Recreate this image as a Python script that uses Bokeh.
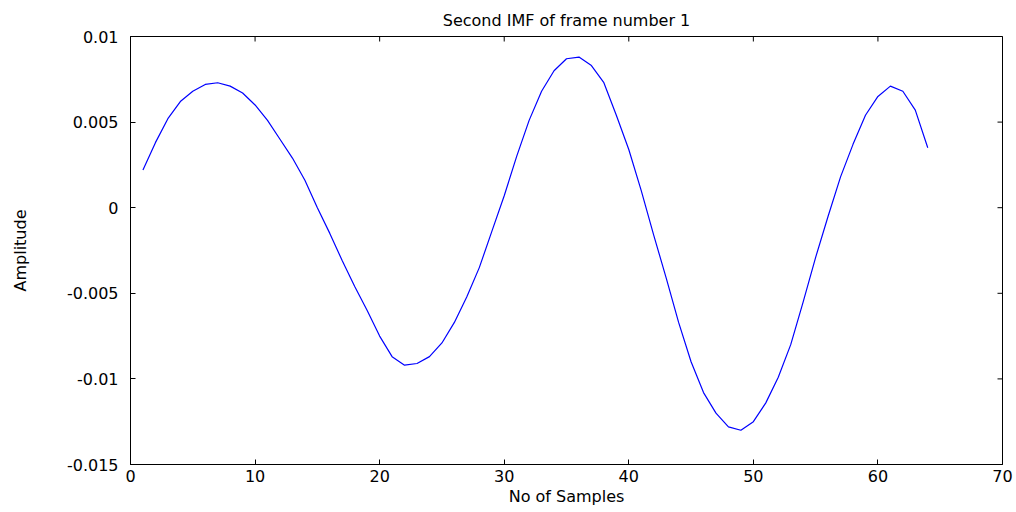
import math
from bokeh.plotting import figure
from bokeh.models import Range1d, FixedTicker
from bokeh.embed import file_html
from bokeh.resources import INLINE

samples = list(range(1, 65))
amplitude = [
    0.0022, 0.0038, 0.0052, 0.0062, 0.0068, 0.0072, 0.0073, 0.0071, 0.0067, 0.0060,
    0.0051, 0.0040, 0.0029, 0.0016, 0.0000, -0.0015, -0.0031, -0.0046, -0.0060, -0.0075,
    -0.0087, -0.0092, -0.0091, -0.0087, -0.0079, -0.0067, -0.0052, -0.0035, -0.0014, 0.0007,
    0.0030, 0.0051, 0.0068, 0.0080, 0.0087, 0.0088, 0.0083, 0.0073, 0.0054, 0.0034,
    0.0010, -0.0016, -0.0041, -0.0067, -0.0090, -0.0108, -0.0120, -0.0128, -0.0130, -0.0125,
    -0.0114, -0.0099, -0.0080, -0.0055, -0.0029, -0.0005, 0.0018, 0.0037, 0.0054, 0.0065,
    0.0071, 0.0068, 0.0057, 0.0035,
]
x_ticks = [0, 10, 20, 30, 40, 50, 60, 70]
y_ticks = [-0.015, -0.01, -0.005, 0, 0.005, 0.01]
y_tick_labels = ["-0.015", "-0.01", "-0.005", "0", "0.005", "0.01"]
x_min, x_max = 0, 70
y_min, y_max = -0.015, 0.01

FONT = "DejaVu Sans"

p = figure(width=1016, height=512, output_backend="svg", toolbar_location=None,
           x_range=Range1d(x_min, x_max), y_range=Range1d(y_min, y_max),
           title="Second IMF of frame number 1",
           min_border_left=130, min_border_right=14, min_border_top=36, min_border_bottom=48)

p.line(samples, amplitude, line_color="#0000ff", line_width=1.2)

# inward tick marks on the top and right edges of the box (clipped to the frame)
p.scatter(x=x_ticks, y=[y_max] * len(x_ticks), marker="dash", size=10,
          angle=math.pi / 2, line_color="#000000", line_width=1)
p.scatter(x=[x_max] * len(y_ticks), y=y_ticks, marker="dash", size=10,
          line_color="#000000", line_width=1)

p.title.align = "center"
p.title.text_font = FONT
p.title.text_font_style = "normal"
p.title.text_font_size = "16px"
p.title.text_color = "#000000"
p.title.standoff = 13

p.xgrid.visible = False
p.ygrid.visible = False
p.outline_line_color = "#000000"
p.outline_line_alpha = 1
p.background_fill_color = "white"
p.border_fill_color = "white"

xa = p.xaxis[0]
xa.ticker = FixedTicker(ticks=x_ticks)
xa.axis_label = "No of Samples"
ya = p.yaxis[0]
ya.ticker = FixedTicker(ticks=y_ticks)
ya.major_label_overrides = {t: l for t, l in zip(y_ticks, y_tick_labels)}
ya.axis_label = "Amplitude"

for ax in (xa, ya):
    ax.major_tick_in = 5
    ax.major_tick_out = 0
    ax.minor_tick_line_color = None
    ax.axis_line_color = "#000000"
    ax.major_tick_line_color = "#000000"
    ax.major_label_text_font = FONT
    ax.major_label_text_font_size = "16px"
    ax.major_label_text_color = "#000000"
    ax.axis_label_text_font = FONT
    ax.axis_label_text_font_size = "16px"
    ax.axis_label_text_font_style = "normal"
    ax.axis_label_text_color = "#000000"

xa.major_label_standoff = 5
xa.axis_label_standoff = 2
ya.major_label_standoff = 12
ya.axis_label_standoff = 34

open("out.html", "w").write(file_html(p, INLINE))
